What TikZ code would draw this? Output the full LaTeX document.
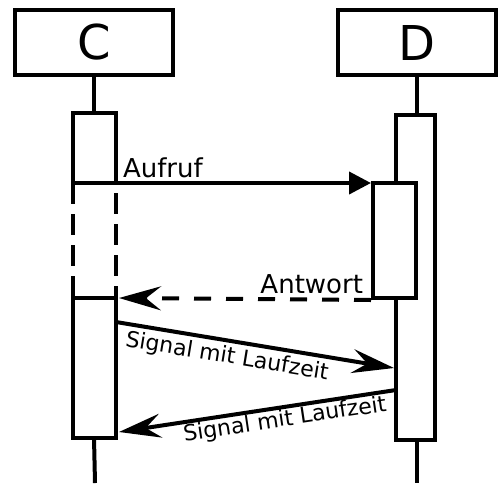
\documentclass[tikz,border=0pt]{standalone}
\usepackage{fontspec}
\setmainfont{DejaVu Sans}
\usetikzlibrary{arrows.meta}
\begin{document}
\begin{tikzpicture}[x=1pt,y=-1pt,line width=4pt,
  actor/.style={draw,fill=white,minimum width=158pt,minimum height=65pt,inner sep=0pt,font=\fontsize{48}{52}\selectfont},
  actbox/.style={draw,fill=white,inner sep=0pt},
  msg/.style={font=\fontsize{26}{30}\selectfont,inner sep=0pt},
  sig/.style={font=\fontsize{22}{26}\selectfont,inner sep=0pt},
  calltip/.style={-{Triangle[length=22pt,width=22pt]}},
  sigtip/.style={-{Stealth[length=42pt,width=24pt,inset=15pt]}},
  retline/.style={dash pattern=on 17pt off 15pt},
  gapline/.style={dash pattern=on 21pt off 10pt}]
\useasboundingbox (0,0) rectangle (500,483);
% actors
\node[actor] (C) at (94,42.5) {C};
\node[actor] (D) at (417,42.5) {D};
% activation areas
\node[minimum width=43pt,minimum height=325pt,inner sep=0pt,outer sep=0pt] (Cact) at (94.5,275.5) {};
\node[actbox,minimum width=39pt,minimum height=325pt] (Dact) at (415.5,277.5) {};
\node[actbox,minimum width=43pt,minimum height=115pt] (Din) at (394.5,240.5) {};
% lifeline end points
\coordinate (Cend) at (95,483);
\coordinate (Dend) at (417,483);
\draw (C.south) -- (C.south |- Cact.north);
\draw (C.south |- Cact.south) -- (Cend);
\draw (D.south) -- (D.south |- Dact.north);
\draw (D.south |- Dact.south) -- (Dend);
% C activation box: solid top part, dashed waiting part, solid bottom part
\coordinate (Ccall) at (73,183);
\coordinate (Cret) at (73,298);
\draw (Ccall) -- (Cact.north west) -- (Cact.north east) -- (116,183);
\draw[gapline] (Ccall) -- (Cret);
\draw[gapline] (116,193) -- (116,298);
\draw (Cret) -- (Cact.south west) -- (Cact.south east) -- (116,298) -- cycle;
% messages
\coordinate (Crecv) at (119,298);
\coordinate (S1a) at (116,322);
\coordinate (S1b) at (394,368);
\coordinate (S2a) at (396,390);
\coordinate (S2b) at (119,432);
\draw[calltip] (Ccall) -- (Ccall -| Din.west);
\draw[retline,sigtip] (Din.south west) -- (Crecv);
\draw[sigtip] (S1a) -- (S1b);
\draw[sigtip] (S2a) -- (S2b);
% labels
\node[msg,anchor=base west] (laufruf) at (121,177) {Aufruf};
\node[msg,anchor=base east] (lantwort) at (365,293) {Antwort};
\node[sig,rotate=-9.33] (ls1) at (227,357) {Signal mit Laufzeit};
\node[sig,rotate=8.5] (ls2) at (285,420) {Signal mit Laufzeit};
\end{tikzpicture}
\end{document}
